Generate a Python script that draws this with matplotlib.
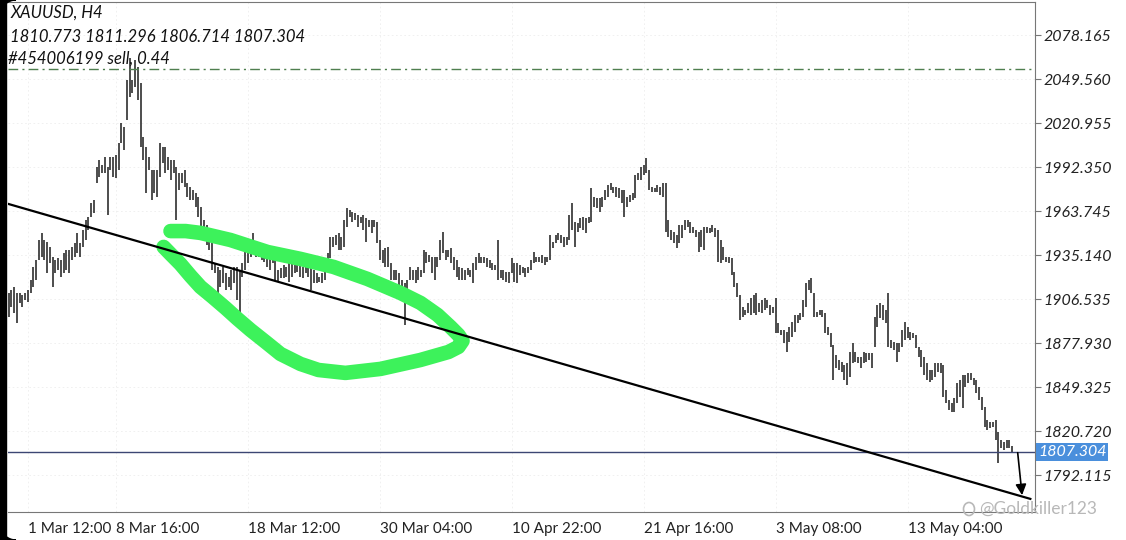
# --- XAUUSD H4 bar chart with trendline and hand-drawn markup ---

import numpy as np
import matplotlib.pyplot as plt
from matplotlib.patches import Rectangle, Polygon, Ellipse

plt.rcParams['font.family'] = ['Lato', 'DejaVu Sans']

# --- Data ---

high = [
    1910.2, 1912.4, 1914.6, 1910.2, 1910.2, 1909.1, 1910.2, 1912.4, 1918.9, 1927.6,
    1931.9, 1944.9, 1949.2, 1944.9, 1943.8, 1940.6, 1934.1, 1931.9, 1933.0, 1931.9,
    1936.2, 1938.4, 1938.4, 1940.6, 1942.7, 1949.2, 1942.7, 1951.4, 1957.9, 1960.1,
    1968.8, 1970.9, 1992.6, 1996.9, 1993.6, 1999.1, 1992.6, 1999.1, 1999.1, 2000.2,
    2007.7, 2020.7, 2018.6, 2048.9, 2063.0, 2048.9, 2061.9, 2057.6, 2046.7, 2012.1,
    2005.6, 1999.1, 1990.4, 1990.4, 1990.4, 2007.7, 2005.6, 2005.6, 1999.1, 1996.9,
    1996.9, 1992.6, 1988.2, 1988.2, 1990.4, 1981.8, 1979.6, 1977.4, 1975.2, 1973.1,
    1966.6, 1957.9, 1954.7, 1948.1, 1942.7, 1929.7, 1927.6, 1925.4, 1927.6, 1923.2,
    1921.1, 1925.4, 1927.6, 1927.6, 1925.4, 1929.7, 1938.4, 1938.4, 1940.6, 1949.2,
    1940.6, 1940.6, 1938.4, 1937.3, 1936.2, 1934.1, 1936.2, 1931.9, 1925.4, 1926.5,
    1928.6, 1927.6, 1929.7, 1929.7, 1931.9, 1933.0, 1929.7, 1927.6, 1927.6, 1928.6,
    1927.6, 1925.4, 1923.2, 1921.1, 1923.2, 1925.4, 1936.2, 1947.1, 1947.1, 1948.1,
    1949.2, 1947.1, 1957.9, 1965.5, 1964.4, 1963.3, 1962.2, 1961.1, 1960.1, 1961.1,
    1959.0, 1957.9, 1957.9, 1957.9, 1956.8, 1944.9, 1938.4, 1939.5, 1940.6, 1929.7,
    1925.4, 1925.4, 1923.2, 1918.9, 1916.7, 1918.9, 1927.6, 1925.4, 1925.4, 1927.6,
    1925.4, 1938.4, 1937.3, 1935.1, 1934.1, 1934.1, 1934.1, 1944.9, 1950.3, 1938.4,
    1938.4, 1939.5, 1934.1, 1931.9, 1927.6, 1926.5, 1925.4, 1926.5, 1925.4, 1929.7,
    1934.1, 1936.2, 1934.1, 1934.1, 1933.0, 1931.9, 1929.7, 1928.6, 1944.9, 1925.4,
    1925.4, 1924.3, 1924.3, 1933.0, 1929.7, 1929.7, 1928.6, 1927.6, 1926.5, 1927.6,
    1931.9, 1937.3, 1934.1, 1934.1, 1935.1, 1934.1, 1934.1, 1948.1, 1943.8, 1948.1,
    1949.2, 1948.1, 1947.1, 1947.1, 1961.1, 1968.7, 1956.8, 1955.7, 1959.0, 1960.1,
    1959.0, 1960.1, 1978.5, 1973.1, 1972.0, 1972.0, 1973.1, 1977.4, 1980.6, 1981.7,
    1979.6, 1979.6, 1978.5, 1977.4, 1977.4, 1973.1, 1974.1, 1975.2, 1987.1, 1988.2,
    1992.6, 1993.6, 1998.0, 1990.4, 1979.6, 1978.5, 1980.6, 1979.6, 1981.7, 1981.7,
    1957.9, 1951.4, 1950.3, 1948.1, 1954.6, 1954.6, 1957.9, 1957.9, 1956.8, 1953.6,
    1951.4, 1950.3, 1951.4, 1953.6, 1953.6, 1952.5, 1954.6, 1952.5, 1951.4, 1944.9,
    1940.6, 1934.1, 1934.1, 1933.0, 1924.3, 1916.7, 1909.1, 1901.6, 1899.4, 1903.7,
    1907.0, 1909.1, 1910.2, 1903.7, 1905.9, 1907.0, 1905.9, 1902.6, 1901.6, 1907.0,
    1890.7, 1886.4, 1886.4, 1885.3, 1888.6, 1891.8, 1896.1, 1896.1, 1897.2, 1905.9,
    1916.7, 1918.9, 1920.0, 1910.2, 1898.3, 1899.4, 1899.4, 1897.2, 1888.6, 1884.2,
    1876.6, 1870.1, 1866.9, 1865.8, 1863.6, 1864.7, 1872.3, 1877.7, 1872.3, 1869.1,
    1869.1, 1872.3, 1871.2, 1871.2, 1871.2, 1895.1, 1902.6, 1903.7, 1902.6, 1899.4,
    1910.2, 1879.9, 1878.8, 1877.7, 1877.7, 1886.4, 1891.8, 1888.6, 1885.3, 1884.2,
    1883.1, 1875.6, 1873.4, 1869.1, 1864.7, 1860.4, 1860.4, 1864.7, 1864.7, 1864.7,
    1863.6, 1847.4, 1840.9, 1838.7, 1842.0, 1851.7, 1853.9, 1857.1, 1857.1, 1858.2,
    1858.2, 1855.0, 1853.9, 1849.6, 1843.1, 1836.6, 1827.9, 1826.8, 1826.8, 1827.9,
    1820.3, 1814.9, 1813.8, 1814.9, 1814.9, 1811.3]

low = [
    1895.1, 1901.6, 1897.2, 1890.7, 1903.7, 1901.6, 1905.9, 1904.8, 1910.2, 1914.6,
    1918.9, 1931.9, 1934.1, 1931.9, 1923.2, 1929.7, 1914.6, 1923.2, 1925.4, 1921.1,
    1923.2, 1925.4, 1923.2, 1931.9, 1934.1, 1936.2, 1934.1, 1940.6, 1944.9, 1951.4,
    1960.1, 1962.3, 1981.8, 1986.1, 1988.2, 1988.2, 1961.1, 1990.4, 1986.1, 1985.0,
    1990.4, 2007.7, 2003.4, 2022.9, 2038.1, 2040.2, 2044.6, 2035.9, 2005.6, 1996.9,
    1975.2, 1990.4, 1970.9, 1975.2, 1973.1, 1986.1, 1994.7, 1988.2, 1990.4, 1983.9,
    1988.2, 1957.9, 1977.4, 1981.8, 1979.6, 1973.1, 1970.9, 1970.9, 1966.6, 1960.1,
    1953.6, 1953.6, 1941.6, 1938.4, 1925.4, 1923.2, 1908.1, 1914.6, 1916.7, 1912.4,
    1914.6, 1912.4, 1916.7, 1905.9, 1897.2, 1921.1, 1925.4, 1929.7, 1934.1, 1936.2,
    1934.1, 1934.1, 1931.9, 1930.8, 1927.6, 1925.4, 1929.7, 1918.9, 1917.8, 1920.0,
    1920.0, 1921.1, 1917.8, 1921.1, 1923.2, 1924.3, 1921.1, 1920.0, 1923.2, 1921.1,
    1912.4, 1916.7, 1916.7, 1917.8, 1916.7, 1918.9, 1927.6, 1933.0, 1940.6, 1941.6,
    1938.4, 1938.4, 1940.6, 1953.6, 1960.1, 1956.8, 1957.9, 1953.6, 1955.7, 1951.4,
    1943.8, 1953.6, 1949.2, 1953.6, 1942.7, 1931.9, 1929.7, 1927.6, 1927.6, 1918.9,
    1918.9, 1918.9, 1914.6, 1912.4, 1889.6, 1912.4, 1918.9, 1918.9, 1916.7, 1918.9,
    1921.1, 1923.2, 1929.7, 1930.8, 1923.2, 1918.9, 1927.6, 1931.9, 1936.2, 1931.9,
    1934.1, 1929.7, 1925.4, 1921.1, 1918.9, 1918.9, 1918.9, 1922.1, 1921.1, 1916.7,
    1925.4, 1929.7, 1929.7, 1929.7, 1927.6, 1926.5, 1925.4, 1925.4, 1918.9, 1920.0,
    1918.9, 1917.8, 1916.7, 1923.2, 1917.8, 1916.7, 1922.1, 1923.2, 1921.1, 1923.2,
    1925.4, 1929.7, 1930.8, 1930.8, 1929.7, 1928.6, 1930.8, 1931.9, 1939.5, 1942.7,
    1944.9, 1942.7, 1940.6, 1941.6, 1944.9, 1951.4, 1940.6, 1950.3, 1952.5, 1951.4,
    1949.2, 1955.7, 1956.8, 1966.6, 1965.5, 1963.3, 1966.6, 1970.9, 1973.1, 1977.4,
    1975.2, 1973.1, 1972.0, 1968.7, 1960.1, 1966.6, 1969.8, 1970.9, 1972.0, 1983.9,
    1983.9, 1987.1, 1988.2, 1977.4, 1976.3, 1976.3, 1976.3, 1974.1, 1973.1, 1950.3,
    1947.1, 1944.9, 1942.7, 1939.5, 1942.7, 1946.0, 1951.4, 1953.6, 1949.2, 1949.2,
    1947.1, 1937.3, 1940.6, 1938.4, 1949.2, 1949.2, 1950.3, 1947.1, 1930.8, 1929.7,
    1931.9, 1930.8, 1929.7, 1922.1, 1914.6, 1908.1, 1892.9, 1895.1, 1896.1, 1897.2,
    1896.1, 1897.2, 1896.1, 1898.3, 1897.2, 1899.4, 1900.5, 1896.1, 1897.2, 1884.2,
    1884.2, 1883.1, 1877.7, 1872.3, 1878.8, 1882.1, 1885.3, 1890.7, 1892.9, 1895.1,
    1901.6, 1912.4, 1910.2, 1895.1, 1895.1, 1896.1, 1895.1, 1884.2, 1883.1, 1875.6,
    1853.9, 1861.5, 1860.4, 1859.3, 1853.9, 1850.6, 1856.1, 1864.7, 1865.8, 1864.7,
    1861.5, 1864.7, 1865.8, 1866.9, 1861.5, 1875.6, 1888.6, 1894.0, 1892.9, 1890.7,
    1875.6, 1874.5, 1873.4, 1865.8, 1872.3, 1875.6, 1879.9, 1881.0, 1879.9, 1881.0,
    1874.5, 1869.1, 1862.6, 1857.1, 1853.9, 1852.8, 1853.9, 1856.1, 1859.3, 1858.2,
    1843.1, 1838.7, 1834.4, 1833.3, 1833.3, 1838.7, 1843.1, 1835.5, 1849.6, 1851.7,
    1853.9, 1850.6, 1845.2, 1840.9, 1834.4, 1823.6, 1821.4, 1822.5, 1823.6, 1814.9,
    1799.7, 1809.5, 1808.4, 1809.5, 1809.5, 1806.7]

last_ohlc = [1810.773, 1811.296, 1806.714, 1807.304]
sell_level = 2056.05

price_ticks = [2078.165, 2049.560, 2020.955, 1992.350, 1963.745, 1935.140,
               1906.535, 1877.930, 1849.325, 1820.720, 1792.115]
date_idx = [7, 39, 87, 135, 183, 231, 279, 327]
date_labels = ['1 Mar 12:00', '8 Mar 16:00', '18 Mar 12:00', '30 Mar 04:00',
               '10 Apr 22:00', '21 Apr 16:00', '3 May 08:00', '13 May 04:00']

# trendline and arrow drawn on the chart (bar index, price)
trend_x = [0.0, 371.6]
trend_y = [1968.3, 1776.6]
arrow_from = (366.9, 1808.4)
arrow_to = (368.7, 1777.2)

# green freehand loop (bar index, price)
loop_x = [58.9, 64.4, 69.8, 80.7, 94.2, 106.2, 118.2, 130.5, 142.5, 149.8,
          156.0, 160.7, 163.6, 165.1, 163.6, 160.0, 149.8, 135.3, 122.5, 112.7,
          106.2, 98.9, 93.5, 88.0, 83.3, 78.9, 74.2, 69.8, 66.2, 62.5, 58.9, 56.4]
loop_y = [1950.7, 1950.7, 1949.5, 1944.9, 1937.1, 1932.6, 1927.4, 1919.6, 1910.5, 1904.0,
          1896.2, 1888.4, 1883.2, 1879.3, 1875.4, 1872.1, 1866.9, 1861.1, 1858.5, 1860.4,
          1864.3, 1870.8, 1878.6, 1886.4, 1893.6, 1900.7, 1907.9, 1914.4, 1921.5, 1929.3,
          1935.8, 1940.4]

# --- Plot ---

fig = plt.figure(figsize=(11.26, 5.4), dpi=100)
ax = fig.add_axes([8 / 1126, 28 / 540, 1027 / 1126, 510 / 540])

idx = list(range(len(high)))
ax.vlines(idx, low, high, color='#1c1c1c', lw=1.1)

ax.plot(loop_x, loop_y, color='#3df25b', lw=10.5, solid_capstyle='round',
        solid_joinstyle='round', zorder=3)
ax.plot(trend_x, trend_y, color='black', lw=1.6, zorder=4)
ax.annotate('', xy=arrow_to, xytext=arrow_from,
            arrowprops=dict(arrowstyle='-|>', color='black', lw=1.2, mutation_scale=16))

ax.axhline(last_ohlc[3], color='#3c4673', lw=1)
ax.axhline(sell_level, color='#4f7f4f', lw=1, ls=(0, (7, 3, 1.5, 3)))

ax.set_xlim(-0.2, 373.3)
ax.set_ylim(1768.07, 2099.62)

ax.yaxis.tick_right()
ax.set_yticks(price_ticks)
ax.set_yticklabels([f'{v:.3f}' for v in price_ticks], fontstyle='italic',
                   fontsize=11.5, color='#222222')
ax.tick_params(axis='y', direction='out', length=4, color='#777777', pad=2)
ax.set_xticks(date_idx)
ax.set_xticklabels(date_labels, ha='left', fontsize=11, color='#222222')
ax.tick_params(axis='x', length=0, pad=7)
ax.grid(True, color='#eeeeee', lw=0.6, ls=(0, (2, 3)))
ax.set_axisbelow(True)

ax.spines['left'].set_visible(False)
for s in ['right', 'bottom', 'top']:
    ax.spines[s].set_color('#777777')
    ax.spines[s].set_linewidth(0.8)

# current price tag
ax.text(1.003, last_ohlc[3], f'{last_ohlc[3]:.3f}', transform=ax.get_yaxis_transform(),
        ha='left', va='center', color='white', fontstyle='italic', fontsize=11.5,
        bbox=dict(boxstyle='square,pad=0.12', fc='#4a8fdc', ec='none'))

# header
fig.text(11 / 1126, 1 - 13 / 540, 'XAUUSD, H4', fontstyle='italic', fontsize=12,
         va='center', color='#111111')
fig.text(10 / 1126, 1 - 37 / 540, ' '.join(f'{v:.3f}' for v in last_ohlc),
         fontstyle='italic', fontsize=12, va='center', color='#111111')
fig.text(8 / 1126, 1 - 59 / 540, '#454006199 sell, 0.44', fontstyle='italic',
         fontsize=12, va='center', color='#111111')

# watermark (small round logo + handle)
W, H = 1126, 540
fig.patches.append(Ellipse((969 / W, 1 - 509 / H), 11 / W, 13 / H, transform=fig.transFigure,
                           fill=False, ec='#b8b8b8', lw=1.2, zorder=5))
fig.text(979 / W, 1 - 509 / H, '@Goldkiller123', fontsize=12.5, va='center',
         ha='left', color='#b8b8b8')

# phone screen edge on the left, with rounded corners
fig.patches.append(Rectangle((0, 0), 6 / W, 1, transform=fig.transFigure,
                             color='black', zorder=10))
r = 16
t = np.linspace(0, np.pi / 2, 12)
top_corner = [(0, 1)] + [((r - r * np.cos(a)) / W, 1 - (r - r * np.sin(a)) / H) for a in t]
bot_corner = [(0, 0)] + [((r - r * np.cos(a)) / W, (r - r * np.sin(a)) / H) for a in t]
for pts in (top_corner, bot_corner):
    fig.patches.append(Polygon(pts, closed=True, transform=fig.transFigure,
                               color='black', zorder=10))

fig.savefig('out.png', dpi=100)
